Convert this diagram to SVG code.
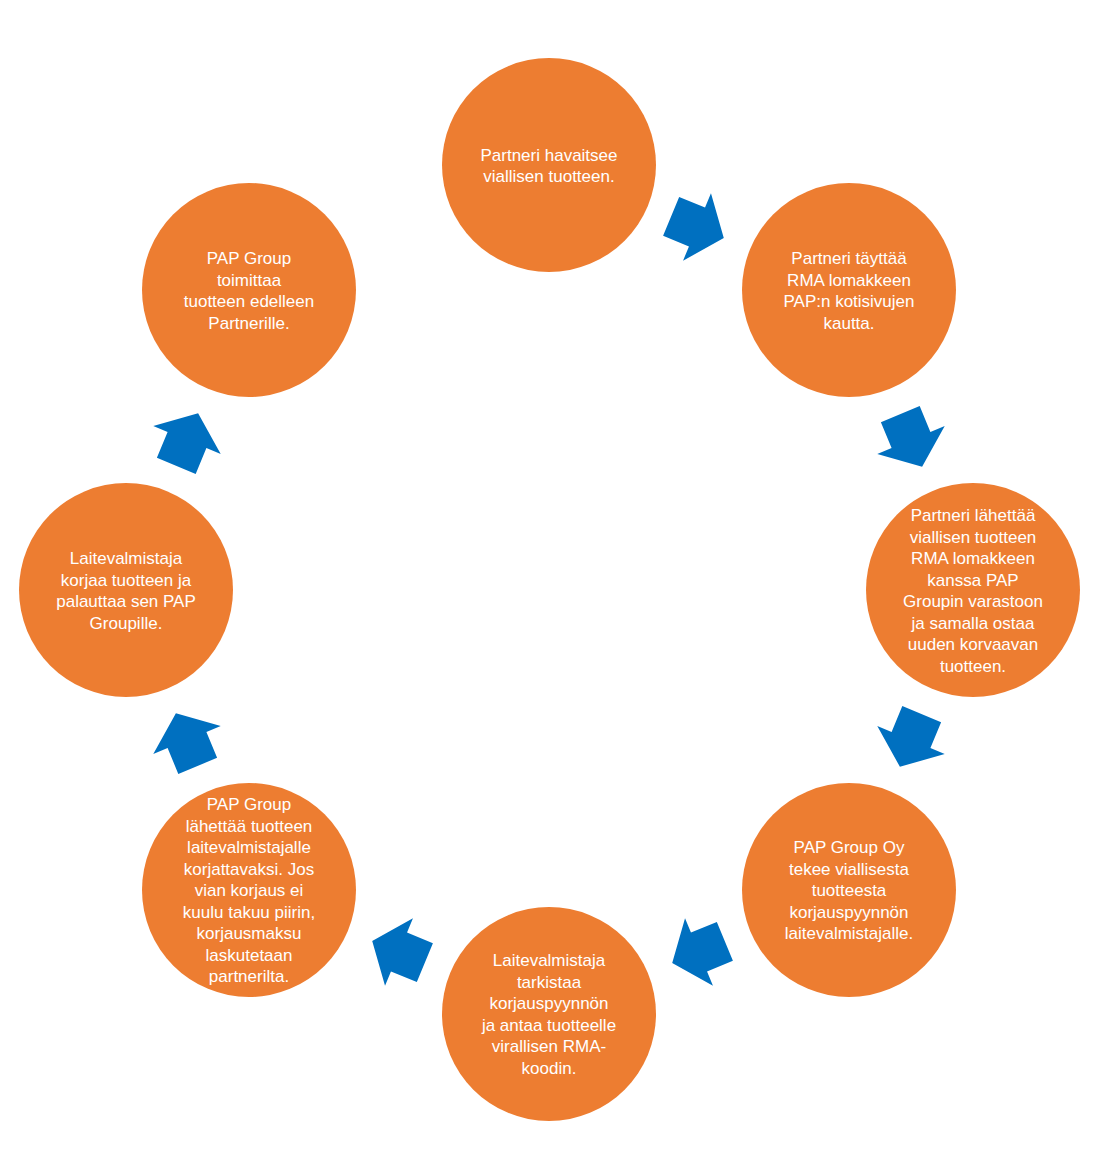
<svg xmlns="http://www.w3.org/2000/svg" width="1101" height="1169" viewBox="0 0 1101 1169">
<style>
.node circle{fill:#ED7D31}
.node text{fill:#fff;font-family:"Liberation Sans",Arial,sans-serif;font-size:17px;text-anchor:middle}
.arr{fill:#0070C0}
</style>
<defs>
<path id="arrow" d="M -28,-21 L 0,-21 L 0,-36.5 L 29,0 L 0,36.5 L 0,21 L -28,21 Z"/>
</defs>
<rect width="1101" height="1169" fill="#fff"/>
<g id="connectors" class="arr">
<use href="#arrow" transform="translate(697,227) rotate(22.5)"/>
<use href="#arrow" transform="translate(911,440) rotate(67.5)"/>
<use href="#arrow" transform="translate(911,740) rotate(112.5)"/>
<use href="#arrow" transform="translate(699,952) rotate(157.5)"/>
<use href="#arrow" transform="translate(399,952) rotate(202.5)"/>
<use href="#arrow" transform="translate(187,740) rotate(247.5)"/>
<use href="#arrow" transform="translate(187,440) rotate(292.5)"/>
</g>
<g id="node1" class="node"><circle cx="549" cy="165" r="107"/>
<text x="549" y="160.5">Partneri havaitsee</text><text x="549" y="182">viallisen tuotteen.</text></g>
<g id="node2" class="node"><circle cx="849" cy="290" r="107"/>
<text x="849" y="264">Partneri täyttää</text><text x="849" y="285.5">RMA lomakkeen</text><text x="849" y="307">PAP:n kotisivujen</text><text x="849" y="328.5">kautta.</text></g>
<g id="node3" class="node"><circle cx="973" cy="590" r="107"/>
<text x="973" y="521">Partneri lähettää</text><text x="973" y="542.5">viallisen tuotteen</text><text x="973" y="564">RMA lomakkeen</text><text x="973" y="585.5">kanssa PAP</text><text x="973" y="607">Groupin varastoon</text><text x="973" y="628.5">ja samalla ostaa</text><text x="973" y="650">uuden korvaavan</text><text x="973" y="671.5">tuotteen.</text></g>
<g id="node4" class="node"><circle cx="849" cy="890" r="107"/>
<text x="849" y="853">PAP Group Oy</text><text x="849" y="874.5">tekee viallisesta</text><text x="849" y="896">tuotteesta</text><text x="849" y="917.5">korjauspyynnön</text><text x="849" y="939">laitevalmistajalle.</text></g>
<g id="node5" class="node"><circle cx="549" cy="1014" r="107"/>
<text x="549" y="966">Laitevalmistaja</text><text x="549" y="987.5">tarkistaa</text><text x="549" y="1009">korjauspyynnön</text><text x="549" y="1030.5">ja antaa tuotteelle</text><text x="549" y="1052">virallisen RMA-</text><text x="549" y="1073.5">koodin.</text></g>
<g id="node6" class="node"><circle cx="249" cy="890" r="107"/>
<text x="249" y="810">PAP Group</text><text x="249" y="831.5">lähettää tuotteen</text><text x="249" y="853">laitevalmistajalle</text><text x="249" y="874.5">korjattavaksi. Jos</text><text x="249" y="896">vian korjaus ei</text><text x="249" y="917.5">kuulu takuu piirin,</text><text x="249" y="939">korjausmaksu</text><text x="249" y="960.5">laskutetaan</text><text x="249" y="982">partnerilta.</text></g>
<g id="node7" class="node"><circle cx="126" cy="590" r="107"/>
<text x="126" y="564">Laitevalmistaja</text><text x="126" y="585.5">korjaa tuotteen ja</text><text x="126" y="607">palauttaa sen PAP</text><text x="126" y="628.5">Groupille.</text></g>
<g id="node8" class="node"><circle cx="249" cy="290" r="107"/>
<text x="249" y="264">PAP Group</text><text x="249" y="285.5">toimittaa</text><text x="249" y="307">tuotteen edelleen</text><text x="249" y="328.5">Partnerille.</text></g>
</svg>
